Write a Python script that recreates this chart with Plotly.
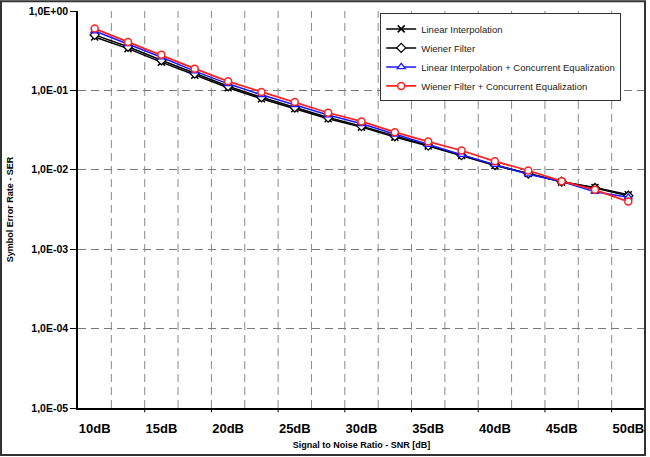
import plotly.graph_objects as go

snr_db = [10, 12.5, 15, 17.5, 20, 22.5, 25, 27.5, 30, 32.5, 35, 37.5, 40, 42.5, 45, 47.5, 50]

ser_linear = [0.470, 0.336, 0.227, 0.155, 0.108, 0.0786, 0.0588, 0.0440, 0.0345, 0.0258,
              0.0199, 0.0151, 0.0113, 0.0090, 0.0070, 0.0060, 0.00484]
ser_wiener = [0.500, 0.355, 0.240, 0.163, 0.113, 0.0820, 0.0610, 0.0455, 0.0355, 0.0265,
              0.0202, 0.0153, 0.0115, 0.0090, 0.0071, 0.0059, 0.0047]
ser_linear_ce = [0.560, 0.385, 0.262, 0.175, 0.121, 0.0880, 0.0660, 0.0490, 0.0380, 0.0280,
                 0.0208, 0.0155, 0.0116, 0.0088, 0.0071, 0.0053, 0.0045]
ser_wiener_ce = [0.600, 0.407, 0.282, 0.188, 0.130, 0.0957, 0.0712, 0.0523, 0.0406, 0.0298,
                 0.0227, 0.0175, 0.0128, 0.0098, 0.00718, 0.0056, 0.00398]

series_names = ["Linear Interpolation", "Wiener Filter",
                "Linear Interpolation + Concurrent Equalization",
                "Wiener Filter + Concurrent Equalization"]

x_tick_vals = [10, 15, 20, 25, 30, 35, 40, 45, 50]
x_tick_text = ["10dB", "15dB", "20dB", "25dB", "30dB", "35dB", "40dB", "45dB", "50dB"]
x_mark_vals = [13.75, 18.75, 23.75, 28.75, 33.75, 38.75, 43.75, 48.75]
x_grid_vals = [11.25, 13.75, 16.25, 18.75, 21.25, 23.75, 26.25, 28.75, 31.25, 33.75,
               36.25, 38.75, 41.25, 43.75, 46.25, 48.75]
y_tick_vals = [1, 1e-1, 1e-2, 1e-3, 1e-4, 1e-5]
y_tick_text = ["1,0E+00", "1,0E-01", "1,0E-02", "1,0E-03", "1,0E-04", "1,0E-05"]

X_RANGE = [8.75, 51.25]

fig = go.Figure()

fig.add_trace(go.Scatter(x=snr_db, y=ser_linear, name=series_names[0], mode="lines+markers",
                         line=dict(color="black", width=1.5),
                         marker=dict(symbol="x-thin-open", size=7, color="black",
                                     line=dict(color="black", width=1.5))))
fig.add_trace(go.Scatter(x=snr_db, y=ser_wiener, name=series_names[1], mode="lines+markers",
                         line=dict(color="black", width=1.5),
                         marker=dict(symbol="diamond", size=7, color="white",
                                     line=dict(color="black", width=1.3))))
fig.add_trace(go.Scatter(x=snr_db, y=ser_linear_ce, name=series_names[2], mode="lines+markers",
                         line=dict(color="#1a1aff", width=1.5),
                         marker=dict(symbol="triangle-up", size=7, color="white",
                                     line=dict(color="#1a1aff", width=1.3))))
fig.add_trace(go.Scatter(x=snr_db, y=ser_wiener_ce, name=series_names[3], mode="lines+markers",
                         line=dict(color="#ff2020", width=1.8),
                         marker=dict(symbol="circle", size=7, color="white",
                                     line=dict(color="#ff2020", width=1.5))))

# vertical dashed category-boundary gridlines and bottom tick marks (axis decoration)
shapes = []
for gx in x_grid_vals:
    shapes.append(dict(type="line", xref="x", yref="paper", x0=gx, x1=gx, y0=0, y1=1,
                       line=dict(color="#8a8a8a", width=1, dash="8px,5px"), layer="below"))
for mx in x_mark_vals:
    shapes.append(dict(type="line", xref="x", yref="paper", x0=mx, x1=mx, y0=0, y1=-0.011,
                       line=dict(color="black", width=1), layer="above"))
shapes.append(dict(type="rect", xref="paper", yref="paper",
                   x0=(1 - 78) / 567, x1=1.0, y0=-(455 - 408) / 397.3, y1=(408 - 1) / 397.3,
                   line=dict(color="#333333", width=2), fillcolor="rgba(0,0,0,0)", layer="above"))

fig.update_layout(
    width=650, height=457,
    margin=dict(l=78, r=5, t=11, b=49),
    paper_bgcolor="white", plot_bgcolor="white",
    font=dict(family="Liberation Sans, Arial, sans-serif", color="black"),
    showlegend=True,
    legend=dict(x=0.533, y=0.994, xanchor="left", yanchor="top",
                bgcolor="white", bordercolor="#333333", borderwidth=1,
                font=dict(size=9.5, color="#222222"), tracegroupgap=0),
    xaxis=dict(range=X_RANGE, tickmode="array", tickvals=x_tick_vals, ticktext=x_tick_text,
               ticks="", showgrid=False, zeroline=False,
               showline=True, linecolor="black", linewidth=1.5,
               tickfont=dict(size=13, weight="bold"), ticklabelstandoff=8,
               title=dict(text="<b>Signal to Noise Ratio - SNR [dB]</b>", font=dict(size=9), standoff=6)),
    yaxis=dict(type="log", range=[-5, 0], tickvals=y_tick_vals, ticktext=y_tick_text,
               ticks="outside", ticklen=6, tickcolor="black", tickwidth=1,
               showgrid=True, gridcolor="#7a7a7a", gridwidth=1, griddash="8px,5px",
               zeroline=False, showline=True, linecolor="black", linewidth=1.5,
               tickfont=dict(size=10.5, weight="bold"),
               title=dict(text="<b>Symbol Error Rate - SER</b>", font=dict(size=9), standoff=14)),
    shapes=shapes,
)

fig.write_html("out.html")
